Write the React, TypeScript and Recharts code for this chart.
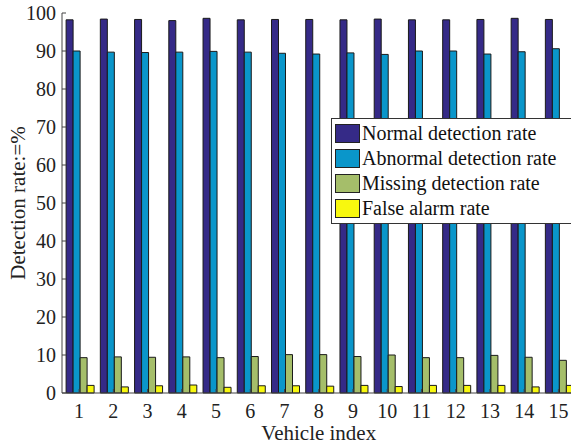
import { Bar, BarChart, XAxis, YAxis } from "recharts"

const vehicles = ["1", "2", "3", "4", "5", "6", "7", "8", "9", "10", "11", "12", "13", "14", "15"]
const normalRate = [98.2, 98.4, 98.3, 98.0, 98.6, 98.2, 98.3, 98.3, 98.2, 98.4, 98.2, 98.2, 98.3, 98.6, 98.3]
const abnormalRate = [90.0, 89.7, 89.6, 89.7, 89.9, 89.7, 89.4, 89.2, 89.5, 89.1, 90.0, 90.0, 89.2, 89.8, 90.6]
const missingRate = [9.3, 9.5, 9.4, 9.5, 9.3, 9.6, 10.1, 10.1, 9.6, 10.0, 9.3, 9.3, 9.9, 9.4, 8.6]
const falseAlarmRate = [2.0, 1.6, 1.9, 2.1, 1.5, 1.9, 1.9, 1.8, 2.0, 1.7, 2.0, 2.0, 2.0, 1.6, 2.0]
const yTicks = [0, 10, 20, 30, 40, 50, 60, 70, 80, 90, 100]

const series = [
  { key: "normal", name: "Normal detection rate", color: "#352A87" },
  { key: "abnormal", name: "Abnormal detection rate", color: "#0A96CA" },
  { key: "missing", name: "Missing detection rate", color: "#A5BE6A" },
  { key: "falseAlarm", name: "False alarm rate", color: "#F8F80E" },
]

const data = vehicles.map((v, i) => ({
  vehicle: v,
  normal: normalRate[i],
  abnormal: abnormalRate[i],
  missing: missingRate[i],
  falseAlarm: falseAlarmRate[i],
}))

const FONT = "'Liberation Serif', 'Times New Roman', serif"
const AXIS = "#444"

// legend drawn as an overlay so it takes no room from the plot
function LegendBox() {
  return (
    <div
      style={{
        position: "absolute",
        left: 331,
        top: 118,
        border: "1px solid #333",
        background: "#fff",
        padding: "2px 22px 2px 3px",
        fontFamily: FONT,
        fontSize: 20,
        color: "#111",
      }}
    >
      {series.map((s) => (
        <div key={s.key} style={{ display: "flex", alignItems: "center", height: 25 }}>
          <span
            style={{
              display: "inline-block",
              width: 23,
              height: 17,
              background: s.color,
              border: "1px solid #222",
              marginRight: 2,
            }}
          />
          <span style={{ whiteSpace: "nowrap" }}>{s.name}</span>
        </div>
      ))}
    </div>
  )
}

function YLabel(props: any) {
  const vb = props.viewBox
  const cy = vb.y + vb.height / 2
  return (
    <text
      x={25}
      y={cy}
      transform={`rotate(-90, 25, ${cy})`}
      textAnchor="middle"
      fontFamily={FONT}
      fontSize={21}
      fill="#222"
    >
      Detection rate:=%
    </text>
  )
}

export default function App() {
  return (
    <div
      style={{
        position: "absolute",
        left: 0,
        top: 0,
        width: 571,
        height: 444,
        overflow: "hidden",
        background: "#fff",
      }}
    >
      <BarChart
        width={590}
        height={444}
        data={data}
        margin={{ top: 13, right: 0, left: 0, bottom: 0 }}
        barCategoryGap="12%"
        barGap={0}
      >
        <XAxis
          xAxisId="b"
          dataKey="vehicle"
          height={51}
          stroke={AXIS}
          tickSize={-4}
          tickMargin={15}
          tick={{ fontSize: 20, fill: "#222", fontFamily: FONT }}
          interval={0}
          label={{
            value: "Vehicle index",
            position: "insideBottom",
            offset: 4,
            fontSize: 21,
            fill: "#222",
            fontFamily: FONT,
          }}
        />
        <XAxis
          xAxisId="t"
          dataKey="vehicle"
          orientation="top"
          height={0}
          stroke={AXIS}
          tickSize={-5}
          interval={0}
          tickFormatter={() => ""}
        />
        <YAxis
          yAxisId="l"
          width={62}
          domain={[0, 100]}
          ticks={yTicks}
          interval={0}
          stroke={AXIS}
          tickSize={-4}
          tickMargin={10}
          tick={{ fontSize: 20, fill: "#222", fontFamily: FONT }}
          label={<YLabel />}
        />
        <YAxis
          yAxisId="r"
          orientation="right"
          width={14.5}
          domain={[0, 100]}
          ticks={yTicks}
          interval={0}
          stroke={AXIS}
          tickSize={-4}
          tickFormatter={() => ""}
        />
        {series.map((s) => (
          <Bar
            key={s.key}
            xAxisId="b"
            yAxisId="l"
            dataKey={s.key}
            name={s.name}
            fill={s.color}
            stroke="#1a1a1a"
            strokeWidth={1}
            isAnimationActive={false}
          />
        ))}
      </BarChart>
      <LegendBox />
    </div>
  )
}
